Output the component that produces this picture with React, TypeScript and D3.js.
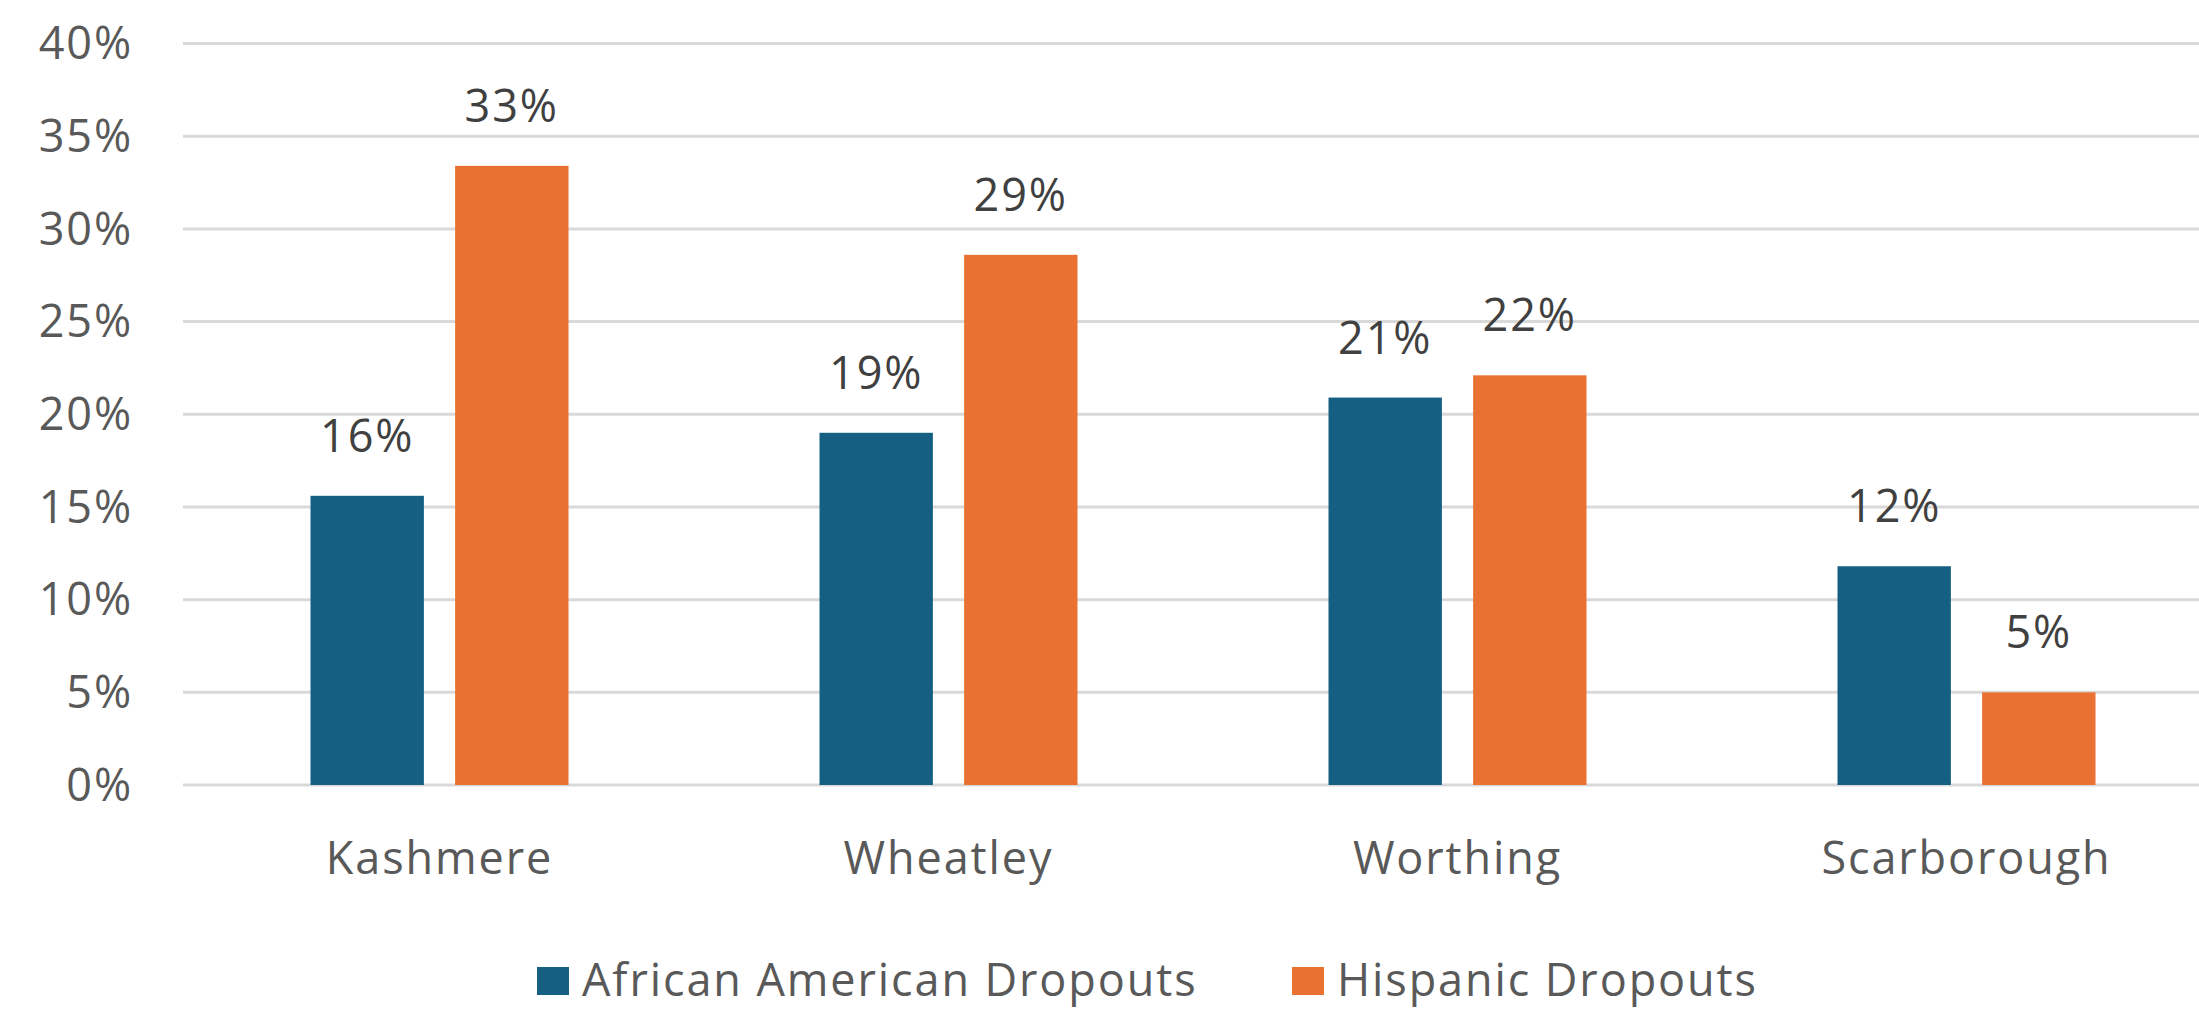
import React from 'react';
import * as d3 from 'd3';

const W = 2199;
const H = 1012;

const categories = ['Kashmere', 'Wheatley', 'Worthing', 'Scarborough'];
const seriesNames = ['African American Dropouts', 'Hispanic Dropouts'];
const africanAmerican = [0.156, 0.19, 0.209, 0.118];
const hispanic = [0.334, 0.286, 0.221, 0.05];
const yTicks = [0, 0.05, 0.1, 0.15, 0.2, 0.25, 0.3, 0.35, 0.4];
const colors = ['#156082', '#E97132'];

const FONT = '"Open Sans", "Liberation Sans", sans-serif';
const FS = 45;
const LS = 1.9;

const App: React.FC = () => {
  const plotLeft = 185;
  const step = 509;

  const x = d3.scaleBand<string>()
    .domain(categories)
    .range([plotLeft, plotLeft + step * categories.length])
    .padding(0);

  // bars sit in a narrower group in the middle of each band
  const groupW = 258;
  const xs = d3.scaleBand<string>()
    .domain(seriesNames)
    .range([(step - groupW) / 2, (step + groupW) / 2])
    .paddingInner(0.216)
    .paddingOuter(0);

  const y = d3.scaleLinear().domain([0, 0.4]).range([785, 43.5]);

  const values = [africanAmerican, hispanic];
  const fmt = d3.format('.0%');

  return (
    <div style={{ position: 'absolute', left: 0, top: 0 }}>
      <svg width={W} height={H} style={{ display: 'block', background: '#fff' }}>
        {/* gridlines + y labels */}
        {yTicks.map(t => (
          <g key={t}>
            <line x1={183} x2={W} y1={y(t)} y2={y(t)} stroke="#D9D9D9" strokeWidth={3} />
            <text
              x={133}
              y={y(t)}
              dy="0.35em"
              textAnchor="end"
              fontFamily={FONT}
              fontSize={FS}
              letterSpacing={LS}
              fill="#595959"
            >
              {fmt(t)}
            </text>
          </g>
        ))}

        {/* bars */}
        {categories.map((c, i) => (
          <g key={c} transform={`translate(${x(c)},0)`}>
            {seriesNames.map((s, j) => {
              const v = values[j][i];
              const bx = xs(s) as number;
              return (
                <g key={s}>
                  <rect
                    x={bx}
                    y={y(v)}
                    width={xs.bandwidth()}
                    height={y(0) - y(v)}
                    fill={colors[j]}
                  />
                  <text
                    x={bx + xs.bandwidth() / 2}
                    y={y(v) - 44}
                    textAnchor="middle"
                    fontFamily={FONT}
                    fontSize={FS}
                    letterSpacing={LS}
                    fill="#404040"
                  >
                    {fmt(v)}
                  </text>
                </g>
              );
            })}
            <text
              x={step / 2}
              y={874}
              textAnchor="middle"
              fontFamily={FONT}
              fontSize={FS}
              letterSpacing={LS}
              fill="#595959"
            >
              {c}
            </text>
          </g>
        ))}

        {/* legend */}
        {seriesNames.map((s, j) => {
          const lx = [537, 1292][j];
          return (
            <g key={s} transform={`translate(${lx},0)`}>
              <rect x={0} y={967} width={32} height={28} fill={colors[j]} />
              <text
                x={45}
                y={996}
                fontFamily={FONT}
                fontSize={FS}
                letterSpacing={LS}
                fill="#595959"
              >
                {s}
              </text>
            </g>
          );
        })}
      </svg>
    </div>
  );
};

export default App;
